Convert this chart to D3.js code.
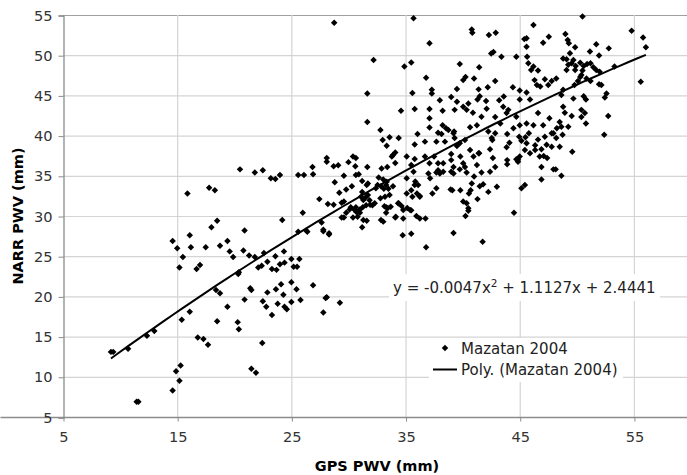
<!DOCTYPE html>
<html>
<head>
<meta charset="utf-8">
<script src="https://cdn.jsdelivr.net/npm/d3@7"></script>
<style>
  body { margin: 0; background: #fff; }
  svg { display: block; font-family: "DejaVu Sans", Verdana, sans-serif; }
</style>
</head>
<body>
<svg id="chart" width="687" height="475"></svg>
<script>
// ticks
const xTicks = [5, 15, 25, 35, 45, 55];
const yTicks = [5, 10, 15, 20, 25, 30, 35, 40, 45, 50, 55];

// polynomial trendline coefficients (a x^2 + b x + c), as printed on the chart
const polyCoef = [-0.0047, 1.1127, 2.4441];
const equationText = ["y = -0.0047x", "2", " + 1.1127x + 2.4441"];

// Mazatan 2004 : [GPS PWV, NARR PWV] in mm
const mazatan2004 = [
  [9.2,13.1],[9.4,13.1],[10.7,13.5],[11.45,6.9],[11.6,6.9],[12.35,15.1],[13.0,15.7],
  [14.6,26.9],[15.0,26.0],[15.2,23.6],[15.5,24.9],[16.1,27.6],[16.2,26.1],[15.4,17.1],[16.1,18.1],
  [16.7,23.4],[17.0,23.9],[17.5,26.1],[16.8,14.9],[17.3,14.7],[17.7,14.0],[14.9,10.7],[15.3,11.4],
  [15.2,9.5],[14.6,8.3],[18.5,16.9],[18.75,26.3],[18.4,20.8],[18.75,20.4],[19.4,26.9],[19.6,25.6],
  [19.9,24.9],[19.4,18.7],[20.3,16.8],[20.4,15.9],[20.4,23.0],[15.9,32.8],[17.8,33.5],[18.3,33.2],
  [18.0,28.6],[18.5,29.4],[20.5,35.8],[21.8,35.4],[22.5,35.7],[23.2,34.7],[23.6,34.6],[24.0,35.1],
  [24.2,29.5],[20.9,28.2],[20.8,25.7],[21.3,25.1],[21.8,24.9],[22.6,25.4],[23.6,25.0],[24.35,25.6],
  [22.1,23.6],[22.4,23.8],[22.9,24.3],[23.3,23.4],[23.7,23.3],[24.0,24.0],[24.4,24.2],[20.35,22.8],
  [20.9,19.6],[21.4,21.0],[21.5,20.8],[22.5,19.4],[22.8,18.7],[22.9,20.5],[23.65,20.9],[24.1,21.5],
  [24.3,20.2],[23.8,19.1],[23.3,17.7],[24.4,18.7],[24.6,18.4],[22.45,14.2],[21.5,11.0],[21.9,10.5],
  [25.0,24.65],[25.2,23.7],[25.5,23.7],[25.7,24.65],[25.0,21.75],[25.0,19.3],[25.45,20.9],[25.8,19.55],
  [26.9,21.4],[27.8,18.0],[28.0,19.8],[28.1,19.9],[29.25,19.2],[25.6,28.05],[26.4,28.05],[27.8,28.1],
  [28.3,27.7],[34.75,27.6],[35.5,27.8],[36.8,26.1],[39.2,27.9],
  [25.6,35.1],[26.1,35.1],[26.9,35.2],[29.6,35.0],[30.65,35.1],[30.9,35.2],[28.8,34.2],[30.3,33.7],
  [29.8,33.3],[29.2,32.9],[31.2,34.35],[31.6,33.85],[32.65,34.8],[33.05,34.55],[32.85,33.7],[33.35,34.25],
  [33.9,33.7],[33.1,33.4],[33.5,33.4],[35.1,34.7],[35.8,33.85],[35.5,33.2],[35.1,32.8],[36.0,32.8],
  [27.45,32.1],[28.2,31.5],[28.7,31.4],[29.4,31.65],[29.6,31.8],[30.2,31.1],[30.65,31.1],[31.0,30.8],
  [31.3,32.0],[31.5,32.3],[31.7,32.6],[31.25,31.1],[31.9,31.4],[32.3,31.6],[32.8,32.2],[33.2,32.4],
  [33.6,32.6],[33.3,31.1],[33.7,31.15],[34.4,31.6],[34.65,31.25],[35.15,31.0],[35.5,30.7],[35.95,30.0],
  [29.4,29.8],[29.6,29.8],[30.4,29.8],[30.8,29.9],[31.0,30.4],[31.3,29.5],[31.6,29.4],[31.2,28.6],
  [29.8,30.4],[30.1,30.8],[30.5,30.8],[30.7,30.5],[33.05,29.3],[34.1,29.8],[27.65,29.2],[26.3,28.2],
  [27.8,28.3],[28.3,27.85],[26.0,30.4],
  [28.75,54.05],[35.7,54.6],[32.2,49.4],[34.9,48.6],[35.5,49.1],[31.65,45.25],[35.6,45.3],[34.6,43.1],
  [35.8,43.3],[31.65,41.7],[32.8,40.7],[33.0,39.45],[33.35,38.75],[33.6,39.8],[34.4,39.7],[35.8,38.9],
  [36.05,40.2],[33.9,37.6],[34.1,37.9],[33.8,37.4],[35.1,37.4],[35.8,37.1],[34.1,36.6],[28.1,37.2],
  [28.1,36.75],[28.7,36.2],[29.1,36.3],[30.0,36.7],[30.4,37.4],[30.65,37.2],[30.6,36.2],[31.65,36.1],
  [26.85,36.1],[32.9,35.9],[33.4,36.1],
  [35.5,36.35],[35.7,35.5],[35.85,34.3],[36.1,33.85],[35.6,32.4],[36.25,32.4],[35.4,30.75],[34.8,30.75],
  [34.8,29.7],[34.15,29.9],[34.35,31.6],[33.45,31.0],[33.15,31.2],[33.3,30.4],[32.85,29.5],[32.4,33.45],
  [32.55,33.85],[33.3,33.85],[31.7,34.05],[31.2,33.0],[31.1,32.4],[31.55,31.35],[32.1,31.35],[31.85,31.95],
  [38.55,40.9],[39.25,40.5],[37.1,36.55],[38.3,36.55],[39.0,37.7],[37.85,35.7],[38.3,35.5],[39.75,35.8],
  [46.2,53.75],[40.8,53.2],[40.85,52.8],[42.3,52.5],[42.9,52.8],[37.1,51.5],[45.4,52.0],[45.6,52.1],
  [45.6,51.05],[47.05,51.55],[47.55,52.3],[42.5,50.2],[42.7,50.4],[43.4,49.8],[44.7,49.8],[45.65,49.8],
  [39.75,48.9],[41.45,48.5],[45.75,49.0],[46.2,48.6],[46.0,48.15],[46.6,48.1],[36.8,47.2],[40.05,46.9],
  [40.25,47.3],[41.0,47.1],[42.85,46.8],[44.4,46.0],[45.0,45.6],[46.3,46.9],[46.5,46.3],[46.8,46.1],
  [47.2,47.0],[47.5,46.3],[47.8,46.8],[48.2,47.1],[37.3,45.7],[37.3,45.25],[39.5,45.8],[41.4,45.75],
  [42.2,46.0],[41.5,44.9],[38.0,44.4],[39.0,44.8],[39.5,44.2],[40.05,43.6],[40.5,44.0],[41.3,44.5],
  [42.05,44.3],[43.2,44.4],[43.6,44.85],[37.1,43.3],[38.25,43.1],[39.3,43.2],[40.35,43.2],[40.9,42.85],
  [42.1,43.35],[43.55,43.6],[44.0,43.2],[45.0,44.5],[45.6,45.35],[45.9,44.5],[37.1,42.15],[37.1,41.0],
  [38.25,41.3],[41.65,42.35],[42.85,42.3],[43.3,41.5],[43.85,42.8],[44.7,42.35],[45.0,41.3],[45.6,41.5],
  [46.2,41.3],[46.6,42.8],[47.05,41.3],[47.6,42.15],[37.85,40.35],[38.15,40.2],[38.75,40.7],[39.2,40.3],
  [39.3,39.7],[40.65,41.05],[41.25,41.3],[42.25,40.5],[42.55,39.7],[42.85,40.3],[43.9,40.2],[44.45,40.9],
  [44.95,39.85],[45.5,39.8],[45.8,40.3],[46.6,39.5],[47.2,39.85],[47.8,40.3],[48.2,39.7],[36.7,39.25],
  [37.7,39.25],[38.45,39.25],[39.5,38.7],[39.75,39.05],[40.2,39.45],[40.65,38.2],[41.45,37.8],[42.4,38.3],
  [42.6,39.45],[43.85,38.55],[44.1,39.1],[45.15,39.35],[45.6,39.05],[46.35,38.8],[46.9,38.3],[47.8,38.6],
  [36.7,37.4],[37.5,37.4],[37.85,36.55],[39.0,36.95],[39.2,36.1],[39.8,37.4],[40.05,36.55],[40.2,36.1],
  [40.95,37.4],[41.4,37.8],[41.25,36.35],[42.65,37.2],[42.85,36.1],[43.9,36.95],[43.9,36.45],[44.7,37.05],
  [44.85,36.75],[45.45,38.2],[45.9,37.8],[46.35,38.2],[47.1,37.45],[48.15,35.8],
  [37.0,35.3],[37.15,34.7],[37.7,35.4],[38.0,35.3],[39.0,35.5],[39.2,35.3],[40.35,35.4],[41.0,34.9],
  [41.65,35.4],[42.4,35.5],[36.25,32.5],[37.35,32.8],[37.7,33.45],[38.95,33.3],[39.1,33.2],[39.8,33.2],
  [40.55,32.8],[40.7,33.2],[40.8,34.05],[41.5,33.7],[41.8,33.95],[42.25,33.0],[43.0,33.65],[41.3,32.1],
  [40.05,31.8],[40.35,31.6],[40.5,30.95],[40.5,30.65],[40.25,30.0],[36.25,29.7],[36.75,29.7],[41.75,26.8],
  [44.5,30.4],[45.15,33.45],[45.45,33.85],[46.9,34.55],
  [50.5,54.8],[54.8,53.05],[55.8,52.2],[56.05,51.0],[55.6,46.7],[49.0,52.65],[49.2,51.9],[49.3,51.5],
  [49.85,51.0],[51.7,51.35],[52.8,50.85],[51.15,50.45],[51.95,49.95],[48.8,49.6],[49.1,49.5],[49.4,50.25],
  [49.7,49.4],[49.55,49.0],[49.9,48.65],[50.3,49.05],[50.6,48.65],[50.9,48.9],[51.2,49.0],[49.1,48.15],
  [49.85,48.15],[49.25,48.8],[51.45,48.5],[51.7,48.15],[52.0,47.95],[50.5,48.1],[50.4,47.55],[50.85,47.1],
  [51.2,46.8],[50.1,46.8],[50.3,47.3],[49.8,46.3],[51.95,46.4],[52.15,46.3],[53.3,48.6],[48.8,45.7],
  [48.65,45.05],[49.7,44.6],[50.6,44.9],[50.8,44.5],[52.6,45.25],[52.45,44.75],[48.8,43.6],[48.95,42.85],
  [49.55,42.45],[50.4,43.2],[50.7,42.8],[50.4,42.3],[50.8,41.5],[52.75,42.45],[48.65,41.1],[48.75,40.1],
  [52.4,40.1],[49.6,38.0],
  [48.65,35.0],[47.95,35.8],[47.4,37.2],[44.85,37.0],[45.0,37.4],[47.35,38.85],[46.75,37.4],[46.9,36.1],
  [47.95,40.3],[48.25,40.9],[48.5,41.7],[49.25,41.1],[48.5,38.6]
];

const svg = d3.select("#chart");
const margin = {left: 63, top: 15};
const plotRight = 691, plotBottom = 417;
const labelFont = "14.6px";

const xScale = d3.scaleLinear().domain([5, 60]).range([margin.left, plotRight]);
const yScale = d3.scaleLinear().domain([5, 55]).range([plotBottom, margin.top]);

// grid
svg.append("g").selectAll("line").data(yTicks.slice(1)).join("line")
  .attr("x1", margin.left).attr("x2", plotRight)
  .attr("y1", d => yScale(d) + 0.5).attr("y2", d => yScale(d) + 0.5)
  .attr("stroke", d => d === 55 ? "#a0a0a0" : "#d4d4d4").attr("stroke-width", 1.2);
svg.append("g").selectAll("line").data(xTicks.slice(1)).join("line")
  .attr("x1", d => xScale(d) + 0.5).attr("x2", d => xScale(d) + 0.5)
  .attr("y1", margin.top).attr("y2", plotBottom)
  .attr("stroke", "#d4d4d4").attr("stroke-width", 1.2);

// axes
let xAxis = svg.append("g")
  .attr("transform", `translate(0.5, ${plotBottom + 0.5})`)
  .call(d3.axisBottom(xScale).tickValues(xTicks).tickSize(4).tickPadding(10));
let yAxis = svg.append("g")
  .attr("transform", `translate(${margin.left + 0.5}, 0.5)`)
  .call(d3.axisLeft(yScale).tickValues(yTicks).tickSize(5).tickPadding(6));
[xAxis, yAxis].forEach(a => {
  a.select(".domain").attr("stroke", "#8c8c8c").attr("stroke-width", 1.3);
  a.selectAll(".tick line").attr("stroke", "#8c8c8c");
  a.selectAll(".tick text")
    .style("font-family", "DejaVu Sans, Verdana, sans-serif")
    .style("font-size", labelFont).attr("fill", "#333");
});
xAxis.select(".domain").attr("d", `M0,0H${plotRight}`);

// axis titles
svg.append("text")
  .text("GPS PWV (mm)")
  .attr("x", (margin.left + plotRight) / 2).attr("y", 471)
  .attr("text-anchor", "middle")
  .style("font-size", "14.5px").style("font-weight", "bold");
svg.append("text")
  .text("NARR PWV (mm)")
  .attr("transform", `translate(23, ${(margin.top + plotBottom) / 2}) rotate(-90)`)
  .attr("text-anchor", "middle")
  .style("font-size", "14.5px").style("font-weight", "bold");

// points
const diamond = d3.symbol(d3.symbolSquare, 21);
svg.append("g").selectAll("path").data(mazatan2004).join("path")
  .attr("d", diamond)
  .attr("transform", d => `translate(${xScale(d[0])},${yScale(d[1])}) rotate(45)`)
  .attr("fill", "#000");

// polynomial trendline
const poly = x => polyCoef[0] * x * x + polyCoef[1] * x + polyCoef[2];
const xExt = d3.extent(mazatan2004, d => d[0]);
const trend = d3.range(0, 61).map(i => {
  let x = xExt[0] + (xExt[1] - xExt[0]) * i / 60;
  return [x, poly(x)];
});
svg.append("path")
  .datum(trend)
  .attr("d", d3.line().x(d => xScale(d[0])).y(d => yScale(d[1])))
  .attr("fill", "none").attr("stroke", "#000").attr("stroke-width", 2);

// equation label
svg.append("rect")
  .attr("x", 389).attr("y", 274).attr("width", 271).attr("height", 27)
  .attr("fill", "#fff");
let eq = svg.append("text")
  .attr("x", 393).attr("y", 293)
  .style("font-size", "15px").attr("fill", "#222");
eq.append("tspan").text(equationText[0]);
eq.append("tspan").text(equationText[1]).attr("dy", -6).style("font-size", "10.5px");
eq.append("tspan").text(equationText[2]).attr("dy", 6);

// legend
svg.append("rect")
  .attr("x", 429).attr("y", 338).attr("width", 194).attr("height", 44)
  .attr("fill", "#fff");
svg.append("path")
  .attr("d", d3.symbol(d3.symbolSquare, 21))
  .attr("transform", "translate(445,348) rotate(45)");
svg.append("line")
  .attr("x1", 433).attr("x2", 457).attr("y1", 369.5).attr("y2", 369.5)
  .attr("stroke", "#000").attr("stroke-width", 2);
svg.append("text").text("Mazatan 2004")
  .attr("x", 461).attr("y", 354)
  .style("font-size", "15px").attr("fill", "#222");
svg.append("text").text("Poly. (Mazatan 2004)")
  .attr("x", 461).attr("y", 375)
  .style("font-size", "15px").attr("fill", "#222");
</script>
</body>
</html>
